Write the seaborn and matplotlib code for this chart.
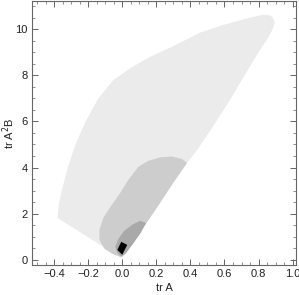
import seaborn as sns
import matplotlib.pyplot as plt
from matplotlib.ticker import MultipleLocator

# outer region boundary (tr A, tr A^2 B)
outer_x = [-0.380, -0.373, -0.355, -0.320, -0.275, -0.215, -0.140, -0.053,
           0.047, 0.164, 0.310, 0.456, 0.602, 0.749, 0.825, 0.865, 0.885,
           0.895, 0.880, 0.850, 0.807, 0.719, 0.632, 0.538, 0.439, 0.380,
           0.298, 0.222, 0.135, 0.058, 0.018, 0.000, -0.012]
outer_y = [1.82, 2.40, 3.00, 4.00, 5.00, 6.00, 7.00, 7.79,
           8.31, 8.80, 9.30, 9.85, 10.20, 10.50, 10.62, 10.60, 10.50,
           10.28, 9.95, 9.55, 9.09, 8.01, 6.93, 5.84, 4.76, 4.20,
           3.33, 2.47, 1.52, 0.65, 0.26, 0.12, 0.10]

# middle region
mid_x = [0.380, 0.351, 0.292, 0.222, 0.152, 0.094, 0.035, -0.012, -0.070,
         -0.111, -0.134, -0.134, -0.105, -0.058, -0.012, 0.018, 0.058,
         0.135, 0.222, 0.298]
mid_y = [4.20, 4.37, 4.48, 4.44, 4.29, 4.03, 3.46, 2.90, 2.29,
         1.82, 1.30, 0.87, 0.48, 0.26, 0.13, 0.26, 0.65,
         1.52, 2.47, 3.33]

# inner region
inner_x = [0.140, 0.105, 0.058, 0.012, -0.023, -0.041, -0.029, -0.006,
           0.018, 0.058, 0.105]
inner_y = [1.60, 1.69, 1.52, 1.26, 0.91, 0.56, 0.30, 0.13,
           0.26, 0.65, 1.13]

# smallest (black) region
core_x = [-0.029, -0.006, 0.029, 0.000]
core_y = [0.43, 0.78, 0.65, 0.22]

sns.set_theme(style="ticks")
plt.rcParams['font.family'] = ['Liberation Sans', 'DejaVu Sans']

fig = plt.figure(figsize=(2.99, 2.95), dpi=100)
ax = fig.add_axes([0.107, 0.102, 0.883, 0.893])

ax.fill(outer_x, outer_y, color="#ebebeb", lw=0)
ax.fill(mid_x, mid_y, color="#cdcdcd", lw=0)
ax.fill(inner_x, inner_y, color="#a9a9a9", lw=0)
ax.fill(core_x, core_y, color="black", lw=0)

ax.set_xlim(-0.53, 1.02)
ax.set_ylim(-0.22, 11.2)
ax.xaxis.set_major_locator(MultipleLocator(0.2))
ax.xaxis.set_minor_locator(MultipleLocator(0.05))
ax.yaxis.set_major_locator(MultipleLocator(2))
ax.yaxis.set_minor_locator(MultipleLocator(0.5))
ax.set_xticks([-0.4, -0.2, 0.0, 0.2, 0.4, 0.6, 0.8, 1.0])
ax.set_xticklabels(["\u22120.4", "\u22120.2", "0.0", "0.2", "0.4", "0.6", "0.8", "1.0"])

ax.tick_params(which="both", direction="in", top=True, right=True,
               color="#666666", labelsize=8, labelcolor="#222222", pad=3)
ax.tick_params(which="major", length=4, width=0.7)
ax.tick_params(which="minor", length=2, width=0.5)
for s in ax.spines.values():
    s.set_color("#666666")
    s.set_linewidth(0.8)

ax.set_xlabel("tr A", fontsize=8, labelpad=3, color="#222222")
ax.set_ylabel("tr A$^2$B", fontsize=8, color="#222222")
ax.yaxis.set_label_coords(-0.058, 0.5)

fig.savefig("out.png", dpi=100)
